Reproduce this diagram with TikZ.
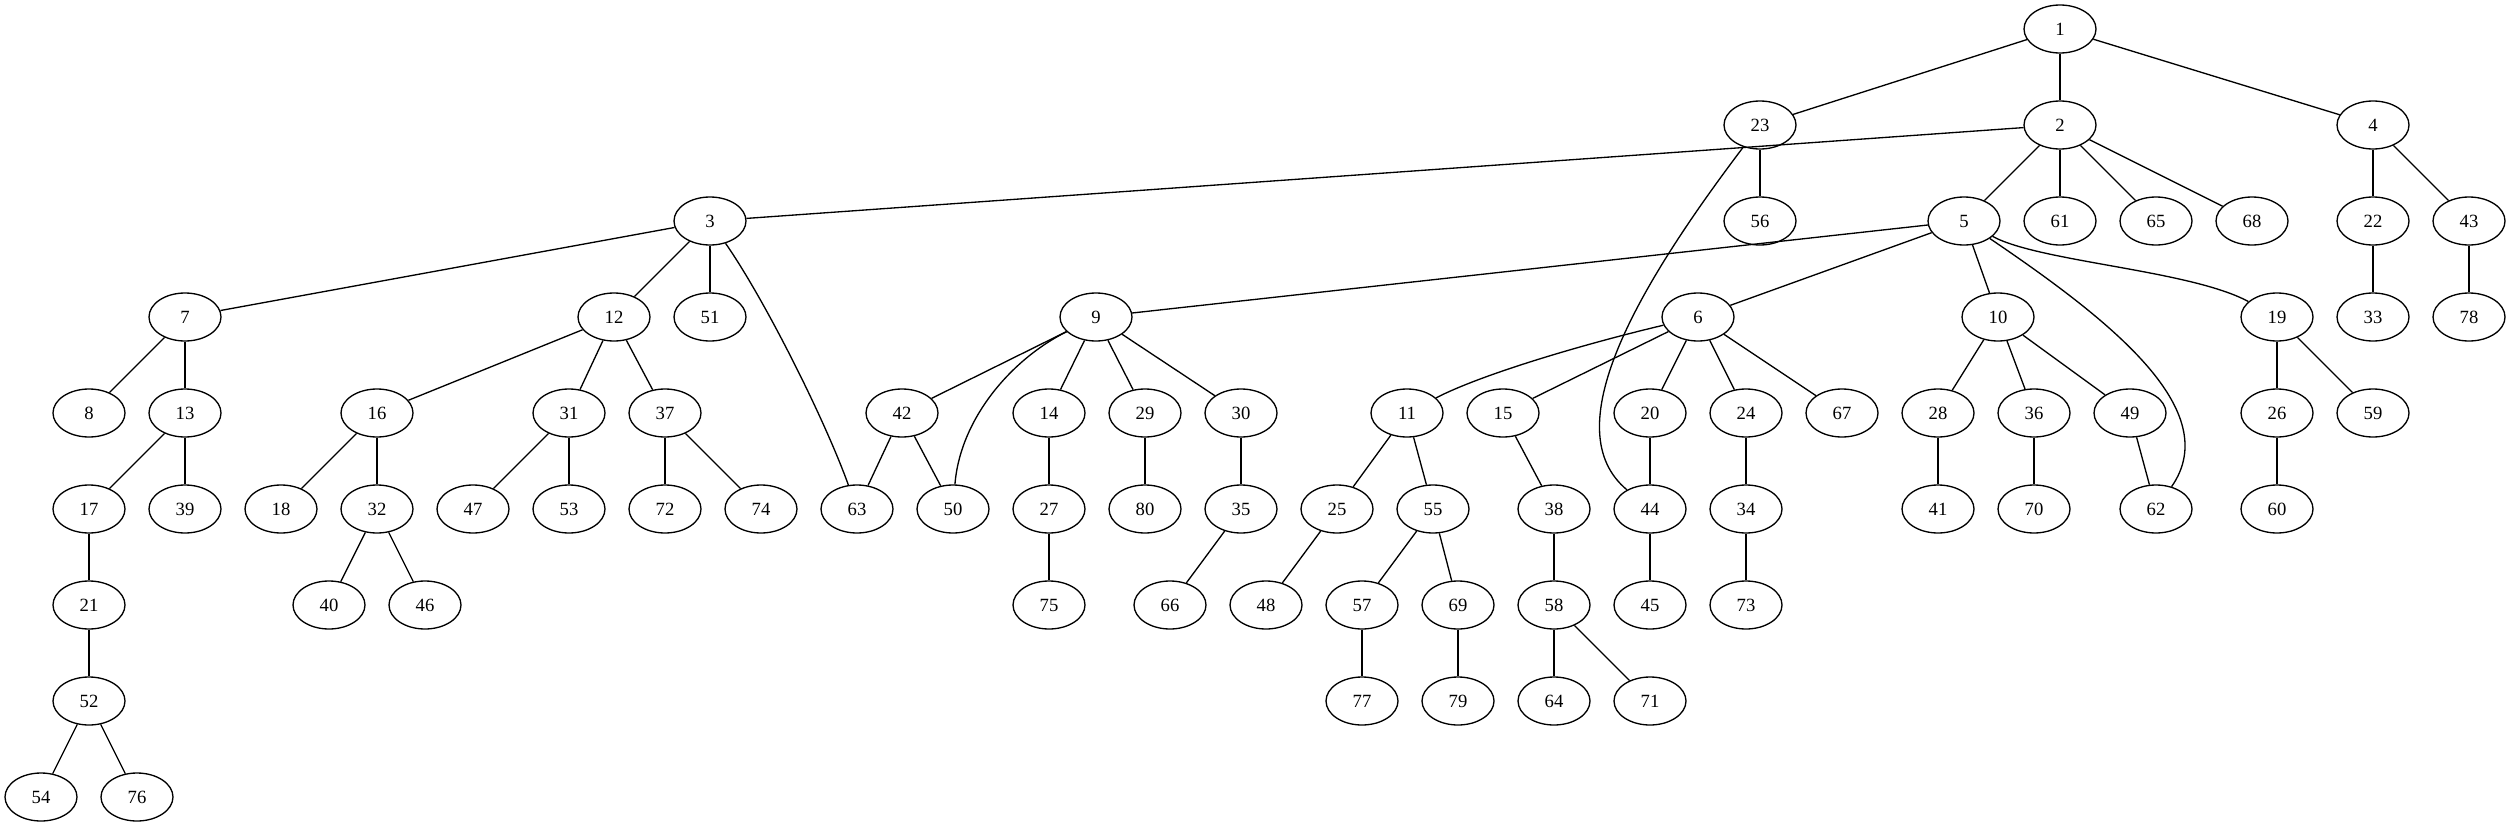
\documentclass[tikz,border=0pt]{standalone}
\usepackage{fontspec}
\setmainfont{Liberation Serif}
\usetikzlibrary{shapes.geometric}
\begin{document}
\begin{tikzpicture}[x=1pt,y=-1pt,
  nd/.style={ellipse,draw,line width=1.33pt,minimum width=72pt,minimum height=48pt,inner sep=0pt,font=\fontsize{18.67}{22}\selectfont},
  ed/.style={line width=1.33pt}]
\useasboundingbox (0,0) rectangle (2511,827);
% level 0
\node[nd] (n1) at (2060,29) {1};
% level 1
\node[nd] (n23) at (1760,125) {23};
\node[nd] (n2) at (2060,125) {2};
\node[nd] (n4) at (2373,125) {4};
% level 2
\node[nd] (n3) at (710,221) {3};
\node[nd] (n56) at (1760,221) {56};
\node[nd] (n5) at (1964,221) {5};
\node[nd] (n61) at (2060,221) {61};
\node[nd] (n65) at (2156,221) {65};
\node[nd] (n68) at (2252,221) {68};
\node[nd] (n22) at (2373,221) {22};
\node[nd] (n43) at (2469,221) {43};
% level 3
\node[nd] (n7) at (185,317) {7};
\node[nd] (n12) at (614,317) {12};
\node[nd] (n51) at (710,317) {51};
\node[nd] (n9) at (1096,317) {9};
\node[nd] (n6) at (1698,317) {6};
\node[nd] (n10) at (1998,317) {10};
\node[nd] (n19) at (2277,317) {19};
\node[nd] (n33) at (2373,317) {33};
\node[nd] (n78) at (2469,317) {78};
% level 4
\node[nd] (n8) at (89,413) {8};
\node[nd] (n13) at (185,413) {13};
\node[nd] (n16) at (377,413) {16};
\node[nd] (n31) at (569,413) {31};
\node[nd] (n37) at (665,413) {37};
\node[nd] (n42) at (902,413) {42};
\node[nd] (n14) at (1049,413) {14};
\node[nd] (n29) at (1145,413) {29};
\node[nd] (n30) at (1241,413) {30};
\node[nd] (n11) at (1407,413) {11};
\node[nd] (n15) at (1503,413) {15};
\node[nd] (n20) at (1650,413) {20};
\node[nd] (n24) at (1746,413) {24};
\node[nd] (n67) at (1842,413) {67};
\node[nd] (n28) at (1938,413) {28};
\node[nd] (n36) at (2034,413) {36};
\node[nd] (n49) at (2130,413) {49};
\node[nd] (n26) at (2277,413) {26};
\node[nd] (n59) at (2373,413) {59};
% level 5
\node[nd] (n17) at (89,509) {17};
\node[nd] (n39) at (185,509) {39};
\node[nd] (n18) at (281,509) {18};
\node[nd] (n32) at (377,509) {32};
\node[nd] (n47) at (473,509) {47};
\node[nd] (n53) at (569,509) {53};
\node[nd] (n72) at (665,509) {72};
\node[nd] (n74) at (761,509) {74};
\node[nd] (n63) at (857,509) {63};
\node[nd] (n50) at (953,509) {50};
\node[nd] (n27) at (1049,509) {27};
\node[nd] (n80) at (1145,509) {80};
\node[nd] (n35) at (1241,509) {35};
\node[nd] (n25) at (1337,509) {25};
\node[nd] (n55) at (1433,509) {55};
\node[nd] (n38) at (1554,509) {38};
\node[nd] (n44) at (1650,509) {44};
\node[nd] (n34) at (1746,509) {34};
\node[nd] (n41) at (1938,509) {41};
\node[nd] (n70) at (2034,509) {70};
\node[nd] (n62) at (2156,509) {62};
\node[nd] (n60) at (2277,509) {60};
% level 6
\node[nd] (n21) at (89,605) {21};
\node[nd] (n40) at (329,605) {40};
\node[nd] (n46) at (425,605) {46};
\node[nd] (n75) at (1049,605) {75};
\node[nd] (n66) at (1170,605) {66};
\node[nd] (n48) at (1266,605) {48};
\node[nd] (n57) at (1362,605) {57};
\node[nd] (n69) at (1458,605) {69};
\node[nd] (n58) at (1554,605) {58};
\node[nd] (n45) at (1650,605) {45};
\node[nd] (n73) at (1746,605) {73};
% level 7
\node[nd] (n52) at (89,701) {52};
\node[nd] (n77) at (1362,701) {77};
\node[nd] (n79) at (1458,701) {79};
\node[nd] (n64) at (1554,701) {64};
\node[nd] (n71) at (1650,701) {71};
% level 8
\node[nd] (n54) at (41,797) {54};
\node[nd] (n76) at (137,797) {76};
% straight edges
\foreach \a/\b in {1/23,1/2,1/4,23/56,2/3,2/5,2/61,2/65,2/68,4/22,4/43,22/33,43/78,
  3/7,3/12,3/51,5/9,5/6,5/10,7/8,7/13,12/16,12/31,12/37,
  9/42,9/14,9/29,9/30,6/15,6/20,6/24,6/67,10/28,10/36,10/49,19/26,19/59,
  13/17,13/39,16/18,16/32,31/47,31/53,37/72,37/74,42/63,42/50,14/27,29/80,30/35,
  11/25,11/55,15/38,20/44,24/34,28/41,36/70,49/62,26/60,17/21,32/40,32/46,
  27/75,35/66,25/48,55/57,55/69,38/58,44/45,34/73,21/52,57/77,69/79,58/64,58/71,
  52/54,52/76}
  \draw[ed] (n\a) -- (n\b);
% curved edges
\draw[ed] (n23) .. controls (1635,290) and (1555,430) .. (n44);
\draw[ed] (n3) .. controls (765,300) and (825,420) .. (n63);
\draw[ed] (n9) .. controls (1010,360) and (960,420) .. (n50);
\draw[ed] (n5) .. controls (2110,320) and (2225,410) .. (n62);
\draw[ed] (n5) .. controls (2040,262) and (2190,270) .. (n19);
\draw[ed] (n6) .. controls (1580,345) and (1480,375) .. (n11);
\end{tikzpicture}
\end{document}
